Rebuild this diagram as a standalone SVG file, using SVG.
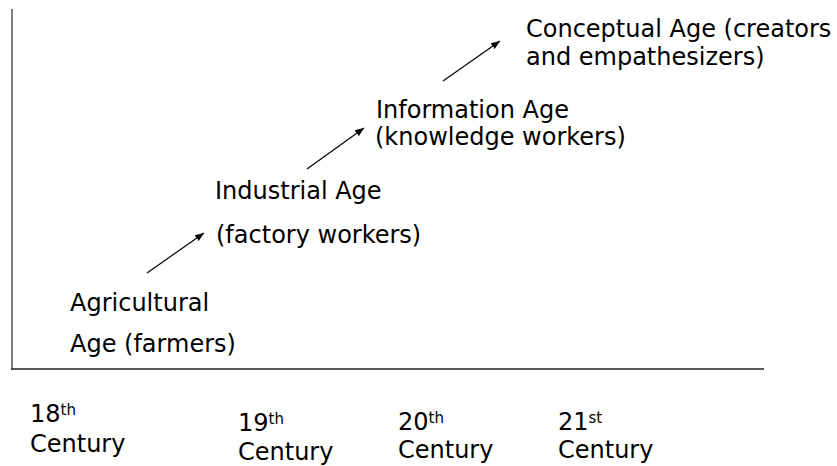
<svg xmlns="http://www.w3.org/2000/svg" width="837" height="466" viewBox="0 0 837 466">
<defs>
<marker id="ah" viewBox="0 0 10 10" refX="10" refY="5" markerWidth="9" markerHeight="9" markerUnits="userSpaceOnUse" orient="auto">
<path d="M0,1 L10,5 L0,9 z" fill="#000"/>
</marker>
<style>
text{font-family:"DejaVu Sans","Verdana",sans-serif;font-size:24px;fill:#000}
.sup{font-size:15px}
.arr{stroke:#000;stroke-width:1.2;fill:none;marker-end:url(#ah)}
</style>
</defs>
<rect width="837" height="466" fill="#fff"/>
<g id="axes">
<line x1="12" y1="9" x2="12" y2="369" stroke="#808080" stroke-width="2"/>
<line x1="11" y1="369" x2="764" y2="369" stroke="#222" stroke-width="1.3"/>
</g>
<g id="connectors">
<line class="arr" x1="147" y1="273" x2="204" y2="233"/>
<line class="arr" x1="307" y1="169" x2="364" y2="128"/>
<line class="arr" x1="443" y1="81" x2="500" y2="41"/>
</g>
<g id="agricultural">
<text x="70" y="311">Agricultural</text>
<text x="70" y="352">Age (farmers)</text>
</g>
<g id="industrial">
<text x="215" y="199">Industrial Age</text>
<text x="216" y="243">(factory workers)</text>
</g>
<g id="information">
<text x="376" y="118">Information Age</text>
<text x="375" y="145">(knowledge workers)</text>
</g>
<g id="conceptual">
<text x="526" y="37">Conceptual Age (creators</text>
<text x="526" y="65">and empathesizers)</text>
</g>
<g id="c18">
<text x="30" y="422">18<tspan class="sup" dy="-7">th</tspan></text>
<text x="30" y="452">Century</text>
</g>
<g id="c19">
<text x="238" y="431">19<tspan class="sup" dy="-7">th</tspan></text>
<text x="238" y="460">Century</text>
</g>
<g id="c20">
<text x="398" y="430">20<tspan class="sup" dy="-7">th</tspan></text>
<text x="398" y="458">Century</text>
</g>
<g id="c21">
<text x="558" y="430">21<tspan class="sup" dy="-7">st</tspan></text>
<text x="558" y="458">Century</text>
</g>
</svg>
